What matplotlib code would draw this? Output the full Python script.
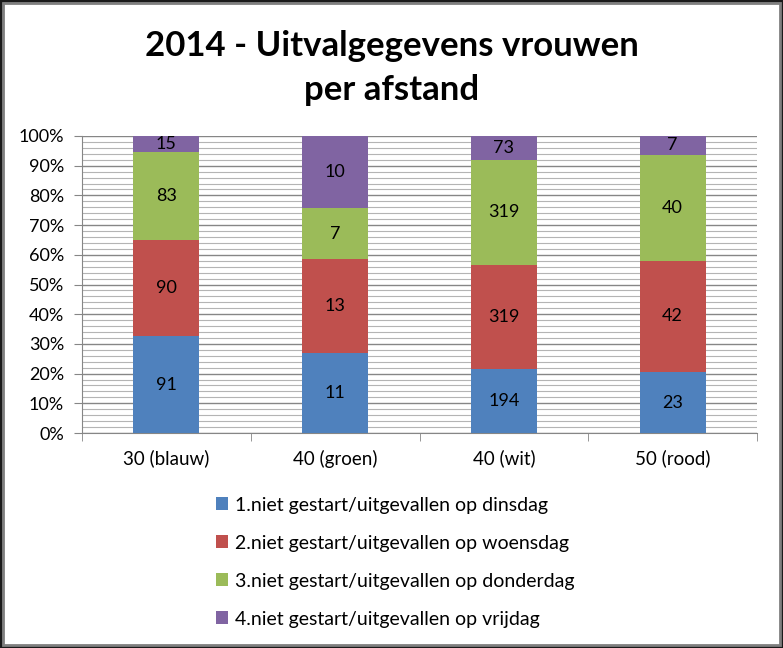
import numpy as np
import matplotlib.pyplot as plt
from matplotlib.patches import Rectangle, Patch
from matplotlib.ticker import MultipleLocator, PercentFormatter, FixedLocator

plt.rcParams['font.family'] = ['Lato', 'DejaVu Sans']

categories = ['30 (blauw)', '40 (groen)', '40 (wit)', '50 (rood)']
series_names = ['1.niet gestart/uitgevallen op dinsdag',
                '2.niet gestart/uitgevallen op woensdag',
                '3.niet gestart/uitgevallen op donderdag',
                '4.niet gestart/uitgevallen op vrijdag']
dinsdag = [91, 11, 194, 23]
woensdag = [90, 13, 319, 42]
donderdag = [83, 7, 319, 40]
vrijdag = [15, 10, 73, 7]
colors = ['#4F81BD', '#C0504D', '#9BBB59', '#8064A2']

values = np.array([dinsdag, woensdag, donderdag, vrijdag], dtype=float)
totals = values.sum(axis=0)
shares = values / totals

fig = plt.figure(figsize=(7.83, 6.48), dpi=100)
ax = fig.add_axes([82 / 783, 215 / 648, 675 / 783, 297 / 648])

x = np.arange(len(categories))
bottom = np.zeros(len(categories))
for i in range(4):
    ax.bar(x, shares[i], bottom=bottom, width=0.39, color=colors[i], zorder=3)
    for j in range(len(categories)):
        ax.text(x[j], bottom[j] + shares[i][j] / 2, f'{int(values[i][j])}',
                ha='center', va='center', fontsize=13, color='black', zorder=4)
    bottom += shares[i]

ax.set_xlim(-0.5, 3.5)
ax.set_ylim(0, 1)
ax.yaxis.set_major_locator(MultipleLocator(0.1))
ax.yaxis.set_minor_locator(MultipleLocator(0.02))
ax.yaxis.set_major_formatter(PercentFormatter(1.0, decimals=0))
ax.grid(axis='y', which='major', color='#868686', linewidth=1, zorder=0)
ax.grid(axis='y', which='minor', color='#b4b4b4', linewidth=0.8, zorder=0)
ax.tick_params(axis='y', which='major', length=6, color='#868686', labelsize=13, pad=7)
ax.tick_params(axis='y', which='minor', length=0)

ax.set_xticks(x)
ax.set_xticklabels(categories)
ax.xaxis.set_minor_locator(FixedLocator([-0.5, 0.5, 1.5, 2.5, 3.5]))
ax.tick_params(axis='x', which='major', length=0, labelsize=13.5, pad=12)
ax.tick_params(axis='x', which='minor', length=6, color='#868686')

for side in ['top', 'right']:
    ax.spines[side].set_visible(False)
for side in ['left', 'bottom']:
    ax.spines[side].set_color('#868686')

fig.text(0.5, 1 - 68 / 648, '2014 - Uitvalgegevens vrouwen\nper afstand',
         ha='center', va='center', fontsize=25, fontweight='bold', linespacing=1.45)

handles = [Patch(facecolor=c) for c in colors]
fig.legend(handles, series_names, loc='upper left', bbox_to_anchor=(198 / 783, 1 - 479 / 648),
           frameon=False, fontsize=14, handlelength=0.62, handleheight=0.62,
           handletextpad=0.4, labelspacing=1.08)

fig.patches.append(Rectangle((0, 0), 1, 1, transform=fig.transFigure, fill=False,
                             edgecolor='#1a1a1a', linewidth=4))
fig.patches.append(Rectangle((3 / 783, 3 / 648), 1 - 6 / 783, 1 - 6 / 648, transform=fig.transFigure,
                             fill=False, edgecolor='#7f7f7f', linewidth=2))

fig.savefig('out.png', dpi=100)
